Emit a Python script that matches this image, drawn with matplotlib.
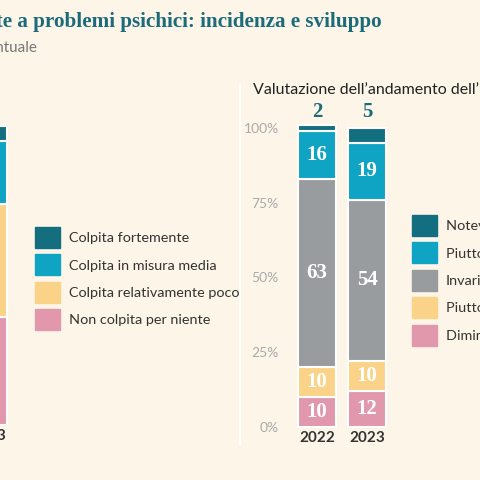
import matplotlib
matplotlib.use("Agg")
import matplotlib.pyplot as plt
from matplotlib.patches import Patch
import numpy as np

plt.rcParams["font.family"] = ["Lato", "DejaVu Sans"]

years = ["2022", "2023"]
right_labels = ["Diminuita notevolmente", "Piuttosto diminuita", "Invariata", "Piuttosto aumentata", "Notevolmente aumentata"]
right_vals = {
    "Diminuita notevolmente": [10, 12],
    "Piuttosto diminuita": [10, 10],
    "Invariata": [63, 54],
    "Piuttosto aumentata": [16, 19],
    "Notevolmente aumentata": [2, 5],
}
left_labels = ["Non colpita per niente", "Colpita relativamente poco", "Colpita in misura media", "Colpita fortemente"]
left_vals = [36, 38, 21, 5]
left_year = ["2023"]
yticks = [0, 25, 50, 75, 100]

BG = "#fdf5e8"
TEAL = "#1c6b7a"
c_right = ["#e198ad", "#fbd388", "#989c9f", "#10a4c4", "#136f80"]
c_left = ["#e198ad", "#fbd388", "#10a4c4", "#136f80"]

fig = plt.figure(figsize=(4.8, 4.8), dpi=100, facecolor=BG)
H = 480.0
def fy(p): return (H - p) / H

axr = fig.add_axes([290 / H, fy(427), 105 / H, (427 - 128) / H])
axr.set_facecolor("none")
x = np.arange(len(years))
bottom = np.zeros(2)
for lab, c in zip(right_labels, c_right):
    v = np.array(right_vals[lab])
    axr.bar(x, v, 0.76, bottom=bottom, color=c, edgecolor="white", linewidth=1.5, clip_on=False)
    for xi, vi, bi in zip(x, v, bottom):
        if lab == "Notevolmente aumentata":
            axr.text(xi, 100 + 2.0, str(vi), ha="center", va="bottom", color=TEAL,
                     fontsize=15, fontweight="bold", family="Liberation Serif")
        else:
            axr.text(xi, bi + vi / 2, str(vi), ha="center", va="center", color="white",
                     fontsize=15, fontweight="bold", family="Liberation Serif")
    bottom += v
axr.set_xlim(-0.54, 1.56)
axr.set_ylim(0, 100)
axr.set_xticks(x, years, fontsize=11, fontweight="bold", color="#333333")
axr.set_yticks(yticks, [f"{t}%" for t in yticks], fontsize=10, color="#aaaaaa")
axr.tick_params(length=0, pad=3)
axr.tick_params(axis="y", pad=8)
for s in axr.spines.values():
    s.set_visible(False)

axl = fig.add_axes([-62 / H, fy(425), 100 / H, (425 - 126) / H])
axl.set_facecolor("none")
b = 0
for v, c in zip(left_vals, c_left):
    axl.bar([0], [v], 0.76, bottom=b, color=c, edgecolor="white", linewidth=1.5)
    b += v
axl.set_xlim(-1, 1)
axl.set_ylim(0, 100)
axl.set_xticks([0], left_year, fontsize=11, fontweight="bold", color="#333333")
axl.set_yticks([])
axl.tick_params(length=0, pad=3)
for s in axl.spines.values():
    s.set_visible(False)

hl = [Patch(color=c, label=l) for l, c in zip(left_labels[::-1], c_left[::-1])]
fig.legend(handles=hl, loc="upper left", bbox_to_anchor=(22 / H, fy(214)), frameon=False,
           fontsize=10.4, handlelength=1.75, handleheight=1.85, labelspacing=0.45,
           handletextpad=0.6, labelcolor="#333333")
hr = [Patch(color=c, label=l) for l, c in zip(right_labels[::-1], c_right[::-1])]
fig.legend(handles=hr, loc="upper left", bbox_to_anchor=(399 / H, fy(202)), frameon=False,
           fontsize=10.4, handlelength=1.75, handleheight=1.85, labelspacing=0.45,
           handletextpad=0.6, labelcolor="#333333")

fig.add_artist(plt.Line2D([240 / H, 240 / H], [fy(445), fy(85)], color="white", lw=1.5))

fig.text(382 / H, fy(22), "Aziende esposte a problemi psichici: incidenza e sviluppo", ha="right", va="center",
         fontsize=15.2, fontweight="bold", color=TEAL, family="Liberation Serif")
fig.text(37 / H, fy(48), "In percentuale", ha="right", va="center", fontsize=11, color="#777777")
fig.text(253 / H, fy(90), "Valutazione dell\u2019andamento dell\u2019incidenza", ha="left", va="center",
         fontsize=11.5, color="#222222")

fig.savefig("out.png", dpi=100, facecolor=BG)
